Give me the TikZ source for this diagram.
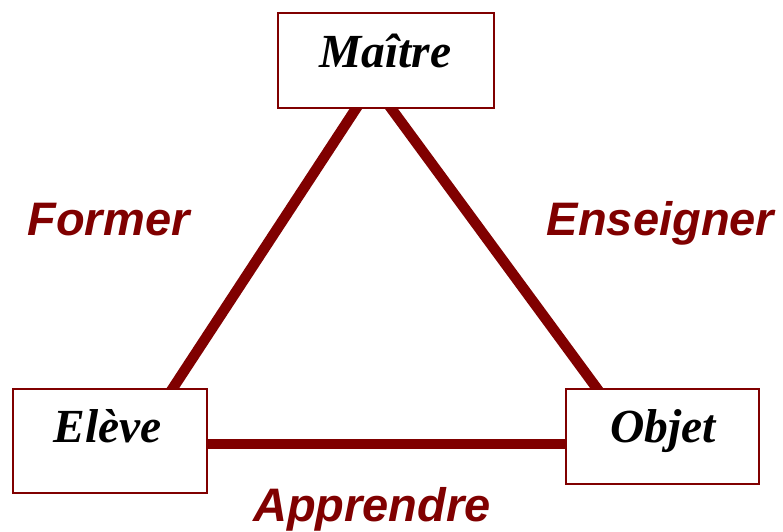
\documentclass[tikz,border=0pt]{standalone}
\usepackage{fontspec}
\setmainfont{Liberation Serif}
\newfontfamily\labelfont{Liberation Sans}
\definecolor{darkred}{HTML}{800000}
\begin{document}
\begin{tikzpicture}[x=1pt,y=-1pt,
  box/.style={draw=darkred, line width=1.5pt, fill=white, rectangle, inner sep=0pt},
  boxtext/.style={font=\fontsize{47.5}{50}\selectfont\bfseries\itshape, text=black, anchor=base, inner sep=0pt},
  edgelabel/.style={font=\labelfont\fontsize{47}{50}\selectfont\bfseries\itshape, text=darkred, anchor=base, inner sep=0pt},
  link/.style={draw=darkred, line width=10.5pt}]
\useasboundingbox (0,0) rectangle (783,531);
% endpoints of the links
\coordinate (m1) at (361.6,100);
\coordinate (m2) at (385,100);
\coordinate (e1) at (168.4,395);
\coordinate (e2) at (200,444);
\coordinate (o1) at (599.5,392);
\coordinate (o2) at (572,444);
\draw[link] (m1) -- (e1);
\draw[link] (m2) -- (o1);
\draw[link] (e2) -- (o2);
% boxes
\node[box, minimum width=216pt, minimum height=95pt, anchor=north west] (mbox) at (277,12) {};
\node[box, minimum width=194pt, minimum height=104pt, anchor=north west] (ebox) at (12,388) {};
\node[box, minimum width=193pt, minimum height=95pt, anchor=north west] (obox) at (565,388) {};
% box texts
\node[boxtext] (mt) at (385.5,67) {Maître};
\node[boxtext] (et) at (107.5,442) {Elève};
\node[boxtext] (ot) at (663,442) {Objet};
% labels
\node[edgelabel] (lf) at (108.5,235) {Former};
\node[edgelabel] (le) at (660.5,235) {Enseigner};
\node[edgelabel] (la) at (372,521) {Apprendre};
\end{tikzpicture}
\end{document}
